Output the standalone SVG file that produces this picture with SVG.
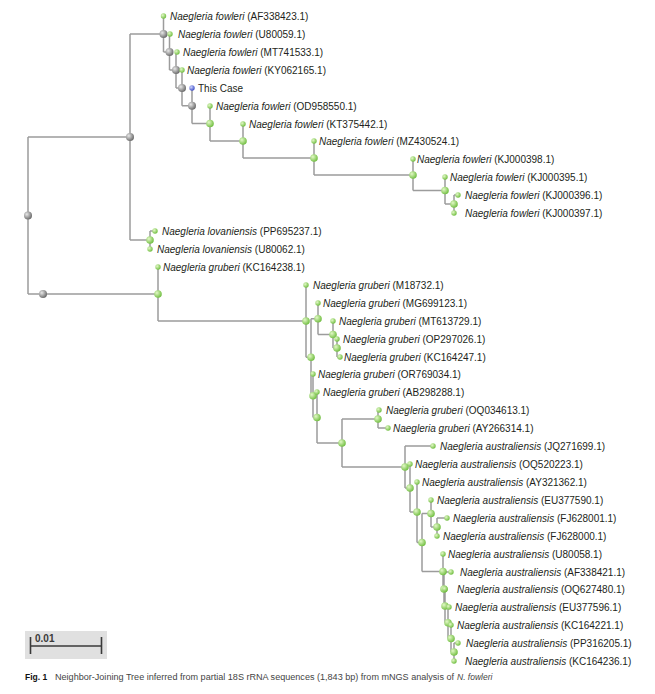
<svg xmlns="http://www.w3.org/2000/svg" width="655" height="694" viewBox="0 0 655 694">
<defs>
<radialGradient id="gG" cx="0.35" cy="0.35" r="0.75"><stop offset="0" stop-color="#e2f8c6"/><stop offset="1" stop-color="#66b934"/></radialGradient>
<radialGradient id="gY" cx="0.35" cy="0.35" r="0.75"><stop offset="0" stop-color="#e8e8e8"/><stop offset="1" stop-color="#5e5e5e"/></radialGradient>
<radialGradient id="gB" cx="0.35" cy="0.35" r="0.75"><stop offset="0" stop-color="#d0d6ff"/><stop offset="1" stop-color="#3040c0"/></radialGradient>
</defs>
<style>
.ln{fill:none;stroke:#9c9c9c;stroke-width:1.5}
.gr{fill:url(#gY)}
.in{fill:url(#gG)}
.lf{fill:url(#gG)}
.bl{fill:url(#gB)}
text{font-family:"Liberation Sans",Arial,sans-serif;font-size:10px;fill:#231f20}
.i{font-style:italic}
.cap{font-size:8.5px;fill:#444}
</style>
<rect width="655" height="694" fill="#fff"/>
<g id="connectors">
<path class="ln" d="M28,137V294M28,137H130M28,294H158
M130,34V240M130,34H163.5M130,240H150
M150,231V249M150,231H155
M163.5,16V52M163.5,52H169.5
M169.5,34V70M169.5,70H176
M176,52V88M176,88H182
M182,70V105.7M182,105.7H192
M192,88V123.5M192,123.5H210
M210,106V141M210,141H243
M243,124V158M243,158H314
M314,141V175M314,175H413
M413,159V190.5M413,190.5H445
M445,177V204M445,204H454
M454,195V213M454,195H458
M158,267V321M158,321H306
M306,285V357.25M306,357.25H311
M311,318.75V395.75M311,318.75H318M311,395.75H313
M318,303V334.5M318,334.5H333
M333,321V348M333,348H337
M337,339V357M337,357H340
M313,374V417.5M313,417.5H317
M317,392V443M317,443H342
M342,419V467M342,419H378M342,467H405
M378,410V428M378,428H388
M405,446V488M405,446H433M405,488H410
M410,464V512M410,512H417
M417,482V542.5M417,542.5H422
M422,513.5V571.5M422,513.5H431M422,571.5H443
M431,500V527M431,527H437
M437,518V536M437,518H447
M443,554V589M443,589H444
M444,572V606M444,572H451M444,606H445
M445,589V622.75M445,622.75H448
M448,607V638.5M448,638.5H451
M451,625V652M451,652H454
M454,643V661M454,643H458"/>
</g>
<g id="internal-nodes">
<circle id="R0" class="gr" cx="28" cy="215.5" r="4"/>
<circle id="R2" class="gr" cx="43" cy="294" r="4"/>
<circle id="R1" class="gr" cx="130" cy="137" r="4"/>
<circle id="nA" class="gr" cx="163.5" cy="34" r="4"/>
<circle id="nB" class="gr" cx="169.5" cy="52" r="4"/>
<circle id="nC" class="gr" cx="176" cy="70" r="4"/>
<circle id="nD" class="gr" cx="182" cy="88" r="4"/>
<circle id="nE" class="gr" cx="192" cy="105.7" r="4"/>
<circle id="nF" class="in" cx="210" cy="123.5" r="3.8"/>
<circle id="nG" class="in" cx="243" cy="141" r="3.8"/>
<circle id="nH" class="in" cx="314" cy="158" r="3.8"/>
<circle id="nI" class="in" cx="413" cy="175" r="3.8"/>
<circle id="nJ" class="in" cx="445" cy="190.5" r="3.8"/>
<circle id="nK" class="in" cx="454" cy="204" r="3.8"/>
<circle id="nL" class="in" cx="150" cy="240" r="3.8"/>
<circle id="nG0" class="in" cx="158" cy="294" r="3.8"/>
<circle id="nP" class="in" cx="306" cy="321" r="3.8"/>
<circle id="nX" class="in" cx="311" cy="357.25" r="3.8"/>
<circle id="nQ" class="in" cx="318" cy="318.75" r="3.8"/>
<circle id="nS2" class="in" cx="333" cy="334.5" r="3.8"/>
<circle id="nS1" class="in" cx="337" cy="348" r="3.8"/>
<circle id="nY" class="in" cx="313" cy="395.75" r="3.8"/>
<circle id="nZ" class="in" cx="317" cy="417.5" r="3.8"/>
<circle id="nW" class="in" cx="342" cy="443" r="3.8"/>
<circle id="nV" class="in" cx="378" cy="419" r="3.8"/>
<circle id="nU" class="in" cx="405" cy="467" r="3.8"/>
<circle id="n11" class="in" cx="410" cy="488" r="3.8"/>
<circle id="n10" class="in" cx="417" cy="512" r="3.8"/>
<circle id="n9" class="in" cx="422" cy="542.5" r="3.8"/>
<circle id="n8" class="in" cx="431" cy="513.5" r="3.8"/>
<circle id="n7" class="in" cx="437" cy="527" r="3.8"/>
<circle id="n6" class="in" cx="443" cy="571.5" r="3.8"/>
<circle id="n5" class="in" cx="444" cy="589" r="3.8"/>
<circle id="n4" class="in" cx="445" cy="606" r="3.8"/>
<circle id="n3" class="in" cx="448" cy="622.75" r="3.8"/>
<circle id="n2" class="in" cx="451" cy="638.5" r="3.8"/>
<circle id="n1" class="in" cx="454" cy="652" r="3.8"/>
</g>
<g id="leaf-AF338423"><circle class="lf" cx="163.5" cy="16" r="2.7"/><text x="170" y="19.5"><tspan class="i">Naegleria fowleri</tspan> (AF338423.1)</text></g>
<g id="leaf-U80059"><circle class="lf" cx="170" cy="34" r="2.7"/><text x="178" y="37.5"><tspan class="i">Naegleria fowleri</tspan> (U80059.1)</text></g>
<g id="leaf-MT741533"><circle class="lf" cx="177" cy="52" r="2.7"/><text x="183" y="55.5"><tspan class="i">Naegleria fowleri</tspan> (MT741533.1)</text></g>
<g id="leaf-KY062165"><circle class="lf" cx="182" cy="70" r="2.7"/><text x="187" y="73.5"><tspan class="i">Naegleria fowleri</tspan> (KY062165.1)</text></g>
<g id="leaf-ThisCase"><circle class="bl" cx="192" cy="88" r="2.7"/><text x="198" y="91.5">This Case</text></g>
<g id="leaf-OD958550"><circle class="lf" cx="210" cy="106" r="2.7"/><text x="216" y="109.5"><tspan class="i">Naegleria fowleri</tspan> (OD958550.1)</text></g>
<g id="leaf-KT375442"><circle class="lf" cx="243" cy="124" r="2.7"/><text x="249" y="127.5"><tspan class="i">Naegleria fowleri</tspan> (KT375442.1)</text></g>
<g id="leaf-MZ430524"><circle class="lf" cx="314" cy="141" r="2.7"/><text x="319" y="144.5"><tspan class="i">Naegleria fowleri</tspan> (MZ430524.1)</text></g>
<g id="leaf-KJ000398"><circle class="lf" cx="413" cy="159" r="2.7"/><text x="417" y="162.5"><tspan class="i">Naegleria fowleri</tspan> (KJ000398.1)</text></g>
<g id="leaf-KJ000395"><circle class="lf" cx="445" cy="177" r="2.7"/><text x="450" y="180.5"><tspan class="i">Naegleria fowleri</tspan> (KJ000395.1)</text></g>
<g id="leaf-KJ000396"><circle class="lf" cx="458" cy="195" r="2.7"/><text x="465" y="198.5"><tspan class="i">Naegleria fowleri</tspan> (KJ000396.1)</text></g>
<g id="leaf-KJ000397"><circle class="lf" cx="454" cy="213" r="2.7"/><text x="465" y="216.5"><tspan class="i">Naegleria fowleri</tspan> (KJ000397.1)</text></g>
<g id="leaf-PP695237"><circle class="lf" cx="155" cy="231" r="2.7"/><text x="162" y="234.5"><tspan class="i">Naegleria lovaniensis</tspan> (PP695237.1)</text></g>
<g id="leaf-U80062"><circle class="lf" cx="150" cy="249" r="2.7"/><text x="157" y="252.5"><tspan class="i">Naegleria lovaniensis</tspan> (U80062.1)</text></g>
<g id="leaf-KC164238"><circle class="lf" cx="158" cy="267" r="2.7"/><text x="163" y="270.5"><tspan class="i">Naegleria gruberi</tspan> (KC164238.1)</text></g>
<g id="leaf-M18732"><circle class="lf" cx="306" cy="285" r="2.7"/><text x="313" y="288.5"><tspan class="i">Naegleria gruberi</tspan> (M18732.1)</text></g>
<g id="leaf-MG699123"><circle class="lf" cx="318" cy="303" r="2.7"/><text x="323" y="306.5"><tspan class="i">Naegleria gruberi</tspan> (MG699123.1)</text></g>
<g id="leaf-MT613729"><circle class="lf" cx="333" cy="321" r="2.7"/><text x="339" y="324.5"><tspan class="i">Naegleria gruberi</tspan> (MT613729.1)</text></g>
<g id="leaf-OP297026"><circle class="lf" cx="337" cy="339" r="2.7"/><text x="343" y="342.5"><tspan class="i">Naegleria gruberi</tspan> (OP297026.1)</text></g>
<g id="leaf-KC164247"><circle class="lf" cx="340" cy="357" r="2.7"/><text x="344" y="360.5"><tspan class="i">Naegleria gruberi</tspan> (KC164247.1)</text></g>
<g id="leaf-OR769034"><circle class="lf" cx="313" cy="374" r="2.7"/><text x="318" y="377.5"><tspan class="i">Naegleria gruberi</tspan> (OR769034.1)</text></g>
<g id="leaf-AB298288"><circle class="lf" cx="317" cy="392" r="2.7"/><text x="323" y="395.5"><tspan class="i">Naegleria gruberi</tspan> (AB298288.1)</text></g>
<g id="leaf-OQ034613"><circle class="lf" cx="379" cy="410" r="2.7"/><text x="386" y="413.5"><tspan class="i">Naegleria gruberi</tspan> (OQ034613.1)</text></g>
<g id="leaf-AY266314"><circle class="lf" cx="388" cy="428" r="2.7"/><text x="393" y="431.5"><tspan class="i">Naegleria gruberi</tspan> (AY266314.1)</text></g>
<g id="leaf-JQ271699"><circle class="lf" cx="433" cy="446" r="2.7"/><text x="440" y="449.5"><tspan class="i">Naegleria australiensis</tspan> (JQ271699.1)</text></g>
<g id="leaf-OQ520223"><circle class="lf" cx="410" cy="464" r="2.7"/><text x="415" y="467.5"><tspan class="i">Naegleria australiensis</tspan> (OQ520223.1)</text></g>
<g id="leaf-AY321362"><circle class="lf" cx="417" cy="482" r="2.7"/><text x="422" y="485.5"><tspan class="i">Naegleria australiensis</tspan> (AY321362.1)</text></g>
<g id="leaf-EU377590"><circle class="lf" cx="431" cy="500" r="2.7"/><text x="437" y="503.5"><tspan class="i">Naegleria australiensis</tspan> (EU377590.1)</text></g>
<g id="leaf-FJ628001"><circle class="lf" cx="447" cy="518" r="2.7"/><text x="453" y="521.5"><tspan class="i">Naegleria australiensis</tspan> (FJ628001.1)</text></g>
<g id="leaf-FJ628000"><circle class="lf" cx="437" cy="536" r="2.7"/><text x="443" y="539.5"><tspan class="i">Naegleria australiensis</tspan> (FJ628000.1)</text></g>
<g id="leaf-U80058"><circle class="lf" cx="443" cy="554" r="2.7"/><text x="448" y="557.5"><tspan class="i">Naegleria australiensis</tspan> (U80058.1)</text></g>
<g id="leaf-AF338421"><circle class="lf" cx="451" cy="572" r="2.7"/><text x="460" y="575.5"><tspan class="i">Naegleria australiensis</tspan> (AF338421.1)</text></g>
<g id="leaf-OQ627480"><circle class="lf" cx="445" cy="589" r="2.7"/><text x="457" y="592.5"><tspan class="i">Naegleria australiensis</tspan> (OQ627480.1)</text></g>
<g id="leaf-EU377596"><circle class="lf" cx="449" cy="607" r="2.7"/><text x="455" y="610.5"><tspan class="i">Naegleria australiensis</tspan> (EU377596.1)</text></g>
<g id="leaf-KC164221"><circle class="lf" cx="451" cy="625" r="2.7"/><text x="457" y="628.5"><tspan class="i">Naegleria australiensis</tspan> (KC164221.1)</text></g>
<g id="leaf-PP316205"><circle class="lf" cx="458" cy="643" r="2.7"/><text x="466" y="646.5"><tspan class="i">Naegleria australiensis</tspan> (PP316205.1)</text></g>
<g id="leaf-KC164236"><circle class="lf" cx="454" cy="661" r="2.7"/><text x="465" y="664.5"><tspan class="i">Naegleria australiensis</tspan> (KC164236.1)</text></g>
<g id="scale-bar">
<rect x="25" y="631" width="82" height="28" fill="#e0e0e0"/>
<path d="M30,646H102M30.5,637V654M101.5,637V654" fill="none" stroke="#3a3a3a" stroke-width="1.6"/>
<text x="35" y="641.5" style="font-size:10px;font-weight:bold;fill:#3a3a3a">0.01</text>
</g>
<g id="caption">
<text x="25" y="680" class="cap" style="font-weight:bold;fill:#111">Fig. 1</text>
<text x="55" y="680" class="cap" textLength="399" lengthAdjust="spacingAndGlyphs">Neighbor-Joining Tree inferred from partial 18S rRNA sequences (1,843 bp) from mNGS analysis of</text>
<text x="457" y="680" class="cap i">N. fowleri</text>
</g>
</svg>
